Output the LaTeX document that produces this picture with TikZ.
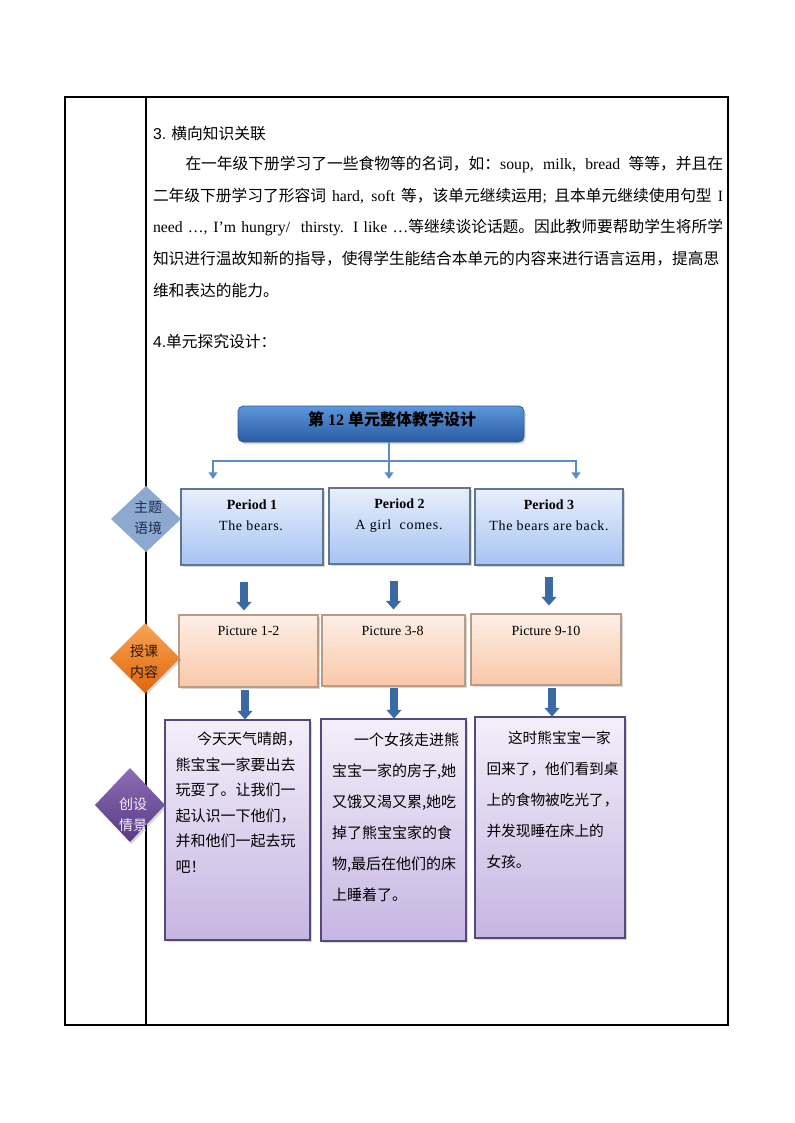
\documentclass[tikz,border=0pt]{standalone}
\usepackage{fontspec}
\setmainfont{Liberation Serif}
\newfontfamily\cjk{Noto Sans CJK SC}
\newfontfamily\latsans{Liberation Sans}
\usetikzlibrary{shapes.geometric,arrows.meta,shadows}
\XeTeXlinebreaklocale "zh"
\XeTeXlinebreakskip=0pt plus 3pt
\newdimen\pxu \pxu=0.75pt
\definecolor{titletop}{HTML}{5B97DA}
\definecolor{titlebot}{HTML}{2A5BA3}
\definecolor{titleline}{HTML}{2D5B96}
\definecolor{conncol}{HTML}{5A8CC6}
\definecolor{pertop}{HTML}{E8EFFC}
\definecolor{perbot}{HTML}{A6C3F2}
\definecolor{perline}{HTML}{5F7593}
\definecolor{arrowcol}{HTML}{3B69A3}
\definecolor{pictop}{HTML}{FDEFE7}
\definecolor{picbot}{HTML}{F9C8A8}
\definecolor{picline}{HTML}{B89C88}
\definecolor{scntop}{HTML}{F3EFFA}
\definecolor{scnbot}{HTML}{C6B5E2}
\definecolor{scnline}{HTML}{56497A}
\definecolor{dia1}{HTML}{8DA9D0}
\definecolor{dia1txt}{HTML}{1E2E4E}
\definecolor{dia2top}{HTML}{F8A456}
\definecolor{dia2bot}{HTML}{DF660A}
\definecolor{dia2txt}{HTML}{2B1806}
\definecolor{dia3top}{HTML}{8C6DB6}
\definecolor{dia3bot}{HTML}{583B84}
\definecolor{dia3txt}{HTML}{F5F0FC}
\begin{document}
\begin{tikzpicture}[x=0.75pt,y=-0.75pt,
  every node/.style={inner sep=0pt, outer sep=0pt},
  tline/.style={line width=0.8pt, black},
  ptext/.style={font=\fontsize{11.8pt}{14pt}\selectfont, anchor=base west},
  shad/.style={drop shadow={shadow xshift=1.2pt, shadow yshift=-1.6pt, opacity=0.3}},
  titlebox/.style={rectangle, rounded corners=4pt, draw=titleline, line width=0.6pt, top color=titletop, bottom color=titlebot, shad},
  perbox/.style={rectangle, draw=perline, line width=0.8pt, top color=pertop, bottom color=perbot, shad},
  picbox/.style={rectangle, draw=picline, line width=0.8pt, top color=pictop, bottom color=picbot, shad},
  scnbox/.style={rectangle, draw=scnline, line width=0.8pt, top color=scntop, bottom color=scnbot, shad},
  conn/.style={line width=1.9pt, draw=conncol},
  connarr/.style={conn, -{Triangle[width=6.5pt,length=5pt]}},
  blockarr/.style={line width=6pt, draw=arrowcol, -{Triangle[width=11pt,length=6.5pt]}},
  pertxt/.style={font=\fontsize{10.5pt}{12pt}\selectfont, anchor=base},
  pertxtb/.style={pertxt, font=\fontsize{10.5pt}{12pt}\selectfont\bfseries},
  lsp/.style={font=\fontsize{10.5pt}{12pt}\selectfont\addfontfeature{LetterSpace=5}},
  scntxt/.style={font=\cjk\fontsize{11.25pt}{13pt}\selectfont, anchor=base west},
  diatxt/.style={font=\cjk\fontsize{10.5pt}{12pt}\selectfont, anchor=base}
]
\useasboundingbox (0,0) rectangle (794,1123);
\fill[white] (0,0) rectangle (794,1123);
% table frame
\draw[tline] (65,97) rectangle (728,1025);
\draw[tline] (146,97) -- (146,1025);

% paragraph text
\node[ptext] (h3) at (153,139.6) {{\latsans 3.} \cjk 横向知识关联};
\node[ptext] (l1) at (185.5,169.6) {\hbox to 537.5\pxu{\cjk 在一年级下册学习了一些食物等的名词，如：{\rmfamily soup, milk, bread }等等，并且在}};
\node[ptext] (l2) at (153,201.3) {\hbox to 570\pxu{\cjk 二年级下册学习了形容词 {\rmfamily hard, soft} 等，该单元继续运用{\rmfamily ;} 且本单元继续使用句型 {\rmfamily I}}};
\node[ptext] (l3) at (153,233) {\hbox to 570\pxu{\rmfamily need …, I’m hungry/\ \ thirsty. I like …{\cjk 等继续谈论话题。因此教师要帮助学生将所学}}};
\node[ptext] (l4) at (153,264.7) {\hbox to 570\pxu{\cjk 知识进行温故知新的指导，使得学生能结合本单元的内容来进行语言运用，提高思}};
\node[ptext] (l5) at (153,296.4) {\cjk 维和表达的能力。};
\node[ptext] (h4) at (153,347.1) {{\latsans 4.}\cjk 单元探究设计：};

% title
\node[titlebox, minimum width=214.5pt, minimum height=27pt] (title) at (381,424) {};
\node[anchor=base, font=\fontsize{12pt}{14pt}\selectfont\bfseries] (titletxt) at (392,425) {{\cjk 第} 12 {\cjk 单元整体教学设计}};

% top connectors
\coordinate (hub) at (389,461);
\coordinate (hl) at (213,461);
\coordinate (hr) at (576,461);
\coordinate (t1) at (213,479);
\coordinate (t2) at (389,479);
\coordinate (t3) at (576,479);
\draw[conn, line cap=rect] (hl) -- (hr);
\draw[connarr] (title.south -| hub) -- (t2);
\draw[connarr] (hl) -- (t1);
\draw[connarr] (hr) -- (t3);

% period boxes
\node[perbox, minimum width=106.5pt, minimum height=57pt] (p1) at (252,527) {};
\node[perbox, minimum width=105.75pt, minimum height=57pt] (p2) at (399.5,526) {};
\node[perbox, minimum width=111pt, minimum height=57pt] (p3) at (549,527) {};
\node[pertxtb] (p1a) at (252,509.7) {Period 1};
\node[pertxt, lsp] (p1b) at (251,530.7) {The bears.};
\node[pertxtb] (p2a) at (399.5,508) {Period 2};
\node[pertxt, lsp] (p2b) at (399,529) {A girl\ \ comes.};
\node[pertxtb] (p3a) at (549,509.7) {Period 3};
\node[pertxt, lsp] (p3b) at (549,530.7) {The bears are back.};

% picture boxes
\node[picbox, minimum width=104.25pt, minimum height=54pt] (c1) at (248.5,651) {};
\node[picbox, minimum width=107.25pt, minimum height=53.25pt] (c2) at (393.5,650.5) {};
\node[picbox, minimum width=112.5pt, minimum height=53.25pt] (c3) at (546,649.5) {};
\node[pertxt] (c1t) at (248.5,635.7) {Picture 1-2};
\node[pertxt] (c2t) at (392.6,635.7) {Picture 3-8};
\node[pertxt] (c3t) at (546,635.7) {Picture 9-10};

% scene boxes
\node[scnbox, minimum width=108.75pt, minimum height=165pt] (s1) at (237.5,830) {};
\node[scnbox, minimum width=108.75pt, minimum height=166.5pt] (s2) at (393.5,830) {};
\node[scnbox, minimum width=112.5pt, minimum height=165.75pt] (s3) at (550,827.5) {};

% block arrows
\coordinate (a1s) at (244,582);   \coordinate (a1e) at (244,610.5);
\coordinate (a2s) at (393.5,581); \coordinate (a2e) at (393.5,609.5);
\coordinate (a3s) at (549,577);   \coordinate (a3e) at (549,605.5);
\coordinate (b1s) at (245,690);   \coordinate (b1e) at (245,719.5);
\coordinate (b2s) at (394,688);   \coordinate (b2e) at (394,718.5);
\coordinate (b3s) at (552,688);   \coordinate (b3e) at (552,716.5);
\draw[blockarr] (a1s) -- (a1e);
\draw[blockarr] (a2s) -- (a2e);
\draw[blockarr] (a3s) -- (a3e);
\draw[blockarr] (b1s) -- (b1e);
\draw[blockarr] (b2s) -- (b2e);
\draw[blockarr] (b3s) -- (b3e);

% scene texts
\node[scntxt] (s1a) at (197,744.6) {今天天气晴朗，};
\node[scntxt] (s1b) at (175.5,770.1) {熊宝宝一家要出去};
\node[scntxt] (s1c) at (175.5,795.6) {玩耍了。让我们一};
\node[scntxt] (s1d) at (175.5,821.1) {起认识一下他们，};
\node[scntxt] (s1e) at (175.5,846.6) {并和他们一起去玩};
\node[scntxt] (s1f) at (175.5,872.1) {吧！};
\node[scntxt] (s2a) at (354,745.6) {一个女孩走进熊};
\node[scntxt] (s2b) at (332,776.6) {宝宝一家的房子,她};
\node[scntxt] (s2c) at (332,807.6) {又饿又渴又累,她吃};
\node[scntxt] (s2d) at (332,838.6) {掉了熊宝宝家的食};
\node[scntxt] (s2e) at (332,869.6) {物,最后在他们的床};
\node[scntxt] (s2f) at (332,900.6) {上睡着了。};
\node[scntxt, font=\cjk\fontsize{11pt}{13pt}\selectfont] (s3a) at (508,743.1) {这时熊宝宝一家};
\node[scntxt, font=\cjk\fontsize{11pt}{13pt}\selectfont] (s3b) at (486.5,774.1) {回来了，他们看到桌};
\node[scntxt, font=\cjk\fontsize{11pt}{13pt}\selectfont] (s3c) at (486.5,805.1) {上的食物被吃光了，};
\node[scntxt, font=\cjk\fontsize{11pt}{13pt}\selectfont] (s3d) at (486.5,836.1) {并发现睡在床上的};
\node[scntxt, font=\cjk\fontsize{11pt}{13pt}\selectfont] (s3e) at (486.5,867.1) {女孩。};

% diamonds
\node[diamond, fill=dia1, minimum width=52.5pt, minimum height=49.5pt] (d1) at (146,519) {};
\node[diamond, top color=dia2top, bottom color=dia2bot, minimum width=52.5pt, minimum height=52.5pt, shad] (d2) at (145,658) {};
\node[diamond, top color=dia3top, bottom color=dia3bot, minimum width=52.5pt, minimum height=55.5pt, shad] (d3) at (130,805) {};
\node[diatxt, text=dia1txt] (d1a) at (148,512.3) {主题};
\node[diatxt, text=dia1txt] (d1b) at (148,533.3) {语境};
\node[diatxt, text=dia2txt] (d2a) at (144,656.3) {授课};
\node[diatxt, text=dia2txt] (d2b) at (144,677.3) {内容};
\node[diatxt, text=dia3txt] (d3a) at (133,809.3) {创设};
\node[diatxt, text=dia3txt] (d3b) at (133,830.3) {情景};
\end{tikzpicture}
\end{document}
